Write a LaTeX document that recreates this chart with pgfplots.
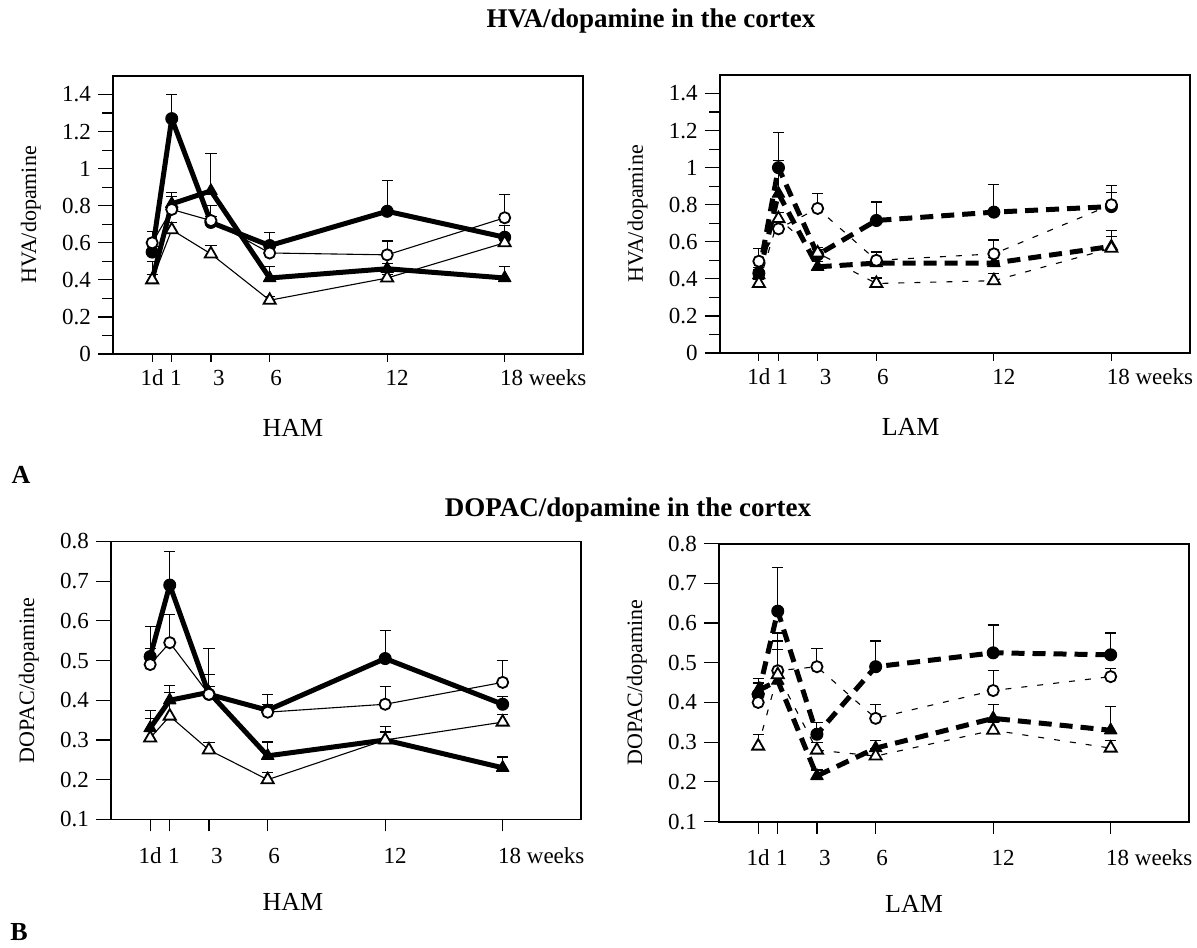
\documentclass[border=0pt]{standalone}
\usepackage{fontspec}
\setmainfont{Liberation Serif}
\usepackage{pgfplots}
\pgfplotsset{compat=1.18}

\pgfplotsset{
  eb/.style={error bars/y dir=plus, error bars/y explicit,
    error bars/error bar style={line width=0.5pt, solid, black},
    error bars/error mark options={rotate=90, mark size=2.8pt, line width=0.6pt, solid, black}},
  sF/.style={black, line width=2.5pt, line join=round, mark=*, mark size=3pt,
    mark options={solid, fill=black, line width=0.5pt}, eb},
  sT/.style={black, line width=2.5pt, line join=round, mark=triangle*, mark size=3.6pt,
    mark options={solid, fill=black, line width=0.5pt}, eb},
  sO/.style={black, line width=0.55pt, mark=*, mark size=2.8pt,
    mark options={solid, fill=white, line width=0.9pt}, eb},
  sW/.style={black, line width=0.55pt, mark=triangle*, mark size=3.5pt,
    mark options={solid, fill=white, line width=0.9pt}, eb},
  dk/.style={dash pattern=on 6.5pt off 4pt},
  dn/.style={dash pattern=on 3pt off 5pt},
  panel/.style={scale only axis, width=235pt, height=139pt, anchor=south west,
    xmin=-2, xmax=22, xtick={0,1,3,6,12,18},
    xticklabels={1d,{\hspace*{4pt}1},{\hspace*{8pt}3},{\hspace*{6.5pt}6},{\hspace*{10pt}12},{\hspace*{7pt}18\rlap{ weeks}}},
    tick align=outside, xtick pos=bottom, ytick pos=left,
    major tick length=7.5pt, minor tick length=5.3pt,
    axis line style={line width=0.9pt},
    every tick/.style={black, line width=0.6pt},
    tick label style={font=\fontsize{11.5}{13}\selectfont},
    /pgf/number format/assume math mode=true,
    every axis y label/.style={at={(axis description cs:-0.175,0.5)}, rotate=90,
      anchor=center, font=\fontsize{11}{13}\selectfont},
    every axis x label/.style={at={(axis description cs:0.5,0)}, anchor=base,
      font=\fontsize{13}{15}\selectfont},
    clip=false},
  toprow/.style={panel, ymin=0, ymax=1.5, ytick={0,0.2,0.4,0.6,0.8,1,1.2,1.4},
    minor y tick num=1, ylabel={HVA/dopamine},
    xtick style={/pgfplots/major tick length=4pt},
    xticklabel style={anchor=base, yshift=-8.5pt},
    xlabel style={yshift=-41.5pt}},
  botrow/.style={panel, ymin=0.1, ymax=0.8, ytick={0.1,0.2,0.3,0.4,0.5,0.6,0.7,0.8},
    ylabel={DOPAC/dopamine},
    xtick style={/pgfplots/major tick length=6pt},
    xticklabel style={anchor=base, yshift=-14.5pt},
    xlabel style={yshift=-45.5pt}},
}

\begin{document}
\begin{tikzpicture}

% A, HAM
\begin{axis}[toprow, at={(56.5pt,296.5pt)}, xlabel={HAM}, xlabel style={xshift=-27.5pt}]
\addplot[sF] coordinates {(0,0.55)+-(0,0.03) (1,1.27)+-(0,0.13) (3,0.71)+-(0,0.03) (6,0.585)+-(0,0.07) (12,0.77)+-(0,0.165) (18,0.63)+-(0,0.065)};
\addplot[sT] coordinates {(0,0.40)+-(0,0.10) (1,0.81)+-(0,0.06) (3,0.88)+-(0,0.20) (6,0.41)+-(0,0.06) (12,0.46)+-(0,0.03) (18,0.41)+-(0,0.06)};
\addplot[sO] coordinates {(0,0.60)+-(0,0.06) (1,0.78)+-(0,0.07) (3,0.72)+-(0,0.08) (6,0.545)+-(0,0.03) (12,0.535)+-(0,0.075) (18,0.735)+-(0,0.125)};
\addplot[sW] coordinates {(0,0.40)+-(0,0.03) (1,0.67)+-(0,0.04) (3,0.54)+-(0,0.045) (6,0.29)+-(0,0.02) (12,0.41)+-(0,0.02) (18,0.60)+-(0,0.03)};
\end{axis}

% A, LAM
\begin{axis}[toprow, at={(359.85pt,297pt)}, xlabel={LAM}, xlabel style={xshift=-22pt}]
\addplot[sF, dk] coordinates {(0,0.43)+-(0,0.03) (1,1.0)+-(0,0.19) (3,0.53)+-(0,0.03) (6,0.715)+-(0,0.10) (12,0.76)+-(0,0.15) (18,0.79)+-(0,0.115)};
\addplot[sT, dk] coordinates {(0,0.42)+-(0,0.03) (1,0.86)+-(0,0.18) (3,0.465)+-(0,0.03) (6,0.485)+-(0,0.03) (12,0.485)+-(0,0.03) (18,0.575)+-(0,0.085)};
\addplot[sO, dn] coordinates {(0,0.495)+-(0,0.07) (1,0.67)+-(0,0.09) (3,0.78)+-(0,0.08) (6,0.50)+-(0,0.045) (12,0.535)+-(0,0.075) (18,0.80)+-(0,0.065)};
\addplot[sW, dn] coordinates {(0,0.375)+-(0,0.02) (1,0.725)+-(0,0.035) (3,0.54)+-(0,0.03) (6,0.375)+-(0,0.03) (12,0.39)+-(0,0.04) (18,0.565)+-(0,0.065)};
\end{axis}

% B, HAM
\begin{axis}[botrow, at={(55.5pt,63.8pt)}, xlabel={HAM}, xlabel style={xshift=-26.5pt}]
\addplot[sF] coordinates {(0,0.51)+-(0,0.075) (1,0.69)+-(0,0.085) (3,0.415)+-(0,0.115) (6,0.375)+-(0,0.04) (12,0.505)+-(0,0.07) (18,0.39)+-(0,0.02)};
\addplot[sT] coordinates {(0,0.33)+-(0,0.045) (1,0.40)+-(0,0.037) (3,0.42)+-(0,0.045) (6,0.26)+-(0,0.035) (12,0.30)+-(0,0.033) (18,0.23)+-(0,0.027)};
\addplot[sO] coordinates {(0,0.49)+-(0,0.04) (1,0.545)+-(0,0.07) (3,0.415)+-(0,0.02) (6,0.37)+-(0,0.02) (12,0.39)+-(0,0.045) (18,0.445)+-(0,0.055)};
\addplot[sW] coordinates {(0,0.305)+-(0,0.05) (1,0.36)+-(0,0.06) (3,0.275)+-(0,0.018) (6,0.20)+-(0,0.018) (12,0.30)+-(0,0.02) (18,0.345)+-(0,0.02)};
\end{axis}

% B, LAM
\begin{axis}[botrow, at={(359.5pt,62.7pt)}, xlabel={LAM}, xlabel style={xshift=-20pt}]
\addplot[sF, dk] coordinates {(0,0.42)+-(0,0.04) (1,0.63)+-(0,0.11) (3,0.32)+-(0,0.03) (6,0.49)+-(0,0.065) (12,0.525)+-(0,0.07) (18,0.52)+-(0,0.055)};
\addplot[sT, dk] coordinates {(0,0.43)+-(0,0.02) (1,0.455)+-(0,0.10) (3,0.215)+-(0,0.015) (6,0.285)+-(0,0.02) (12,0.36)+-(0,0.035) (18,0.33)+-(0,0.06)};
\addplot[sO, dn] coordinates {(0,0.40)+-(0,0.047) (1,0.48)+-(0,0.095) (3,0.49)+-(0,0.045) (6,0.36)+-(0,0.035) (12,0.43)+-(0,0.05) (18,0.465)+-(0,0.02)};
\addplot[sW, dn] coordinates {(0,0.29)+-(0,0.03) (1,0.47)+-(0,0.063) (3,0.28)+-(0,0.02) (6,0.265)+-(0,0.02) (12,0.33)+-(0,0.02) (18,0.285)+-(0,0.02)};
\end{axis}

\node[anchor=base, font=\fontsize{13.5}{16}\selectfont\bfseries] at (325.5pt,459.5pt) {HVA/dopamine in the cortex};
\node[anchor=base, font=\fontsize{13.5}{16}\selectfont\bfseries] at (314pt,215pt) {DOPAC/dopamine in the cortex};
\node[anchor=base, font=\fontsize{13}{15}\selectfont\bfseries] at (10.5pt,231.5pt) {A};
\node[anchor=base, font=\fontsize{13}{15}\selectfont\bfseries] at (9.5pt,3.5pt) {B};

\pgfresetboundingbox
\path (0,0) rectangle (598.5pt,473.5pt);
\end{tikzpicture}
\end{document}
